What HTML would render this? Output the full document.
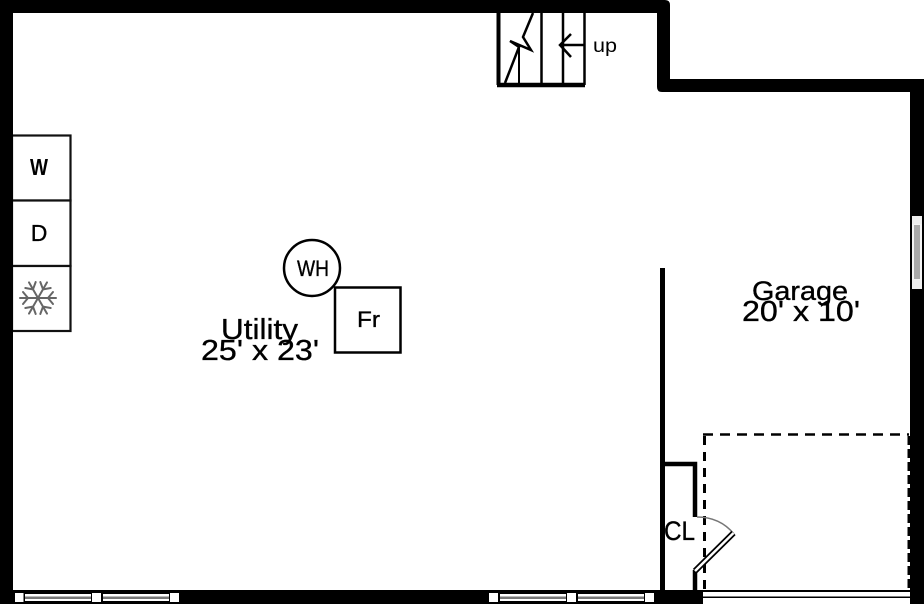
<!DOCTYPE html>
<html><head><meta charset="utf-8"><style>
html,body{margin:0;padding:0;background:#fff;width:924px;height:604px;overflow:hidden}
svg{display:block}
text{font-family:"Liberation Sans",sans-serif;fill:#000}
.t{stroke:#000;stroke-width:.35px}
</style></head><body>
<svg width="924" height="604" viewBox="0 0 924 604" xmlns="http://www.w3.org/2000/svg">
<rect width="924" height="604" fill="#fff"/>
<!-- walls -->
<path d="M0 0H665Q670 0 670 5V79H924V604H910V598H703V604H0ZM13 13V590H910V92H662Q657 92 657 87V13Z" fill="#000" fill-rule="evenodd"/>
<rect x="703" y="592" width="207" height="4.500" fill="#fff"/>
<!-- bottom windows -->
<g fill="#fff">
<rect x="15" y="593" width="8.500" height="9"/><rect x="92" y="593" width="9" height="9"/><rect x="170" y="593" width="9" height="9"/>
<rect x="25" y="594" width="66" height="7"/><rect x="103" y="594" width="66" height="7"/>
<rect x="489" y="593" width="9" height="9"/><rect x="567" y="593" width="9" height="9"/><rect x="645" y="593" width="9" height="9"/>
<rect x="500" y="594" width="66" height="7"/><rect x="578" y="594" width="66" height="7"/>
</g>
<g fill="#777">
<rect x="25" y="596.500" width="66" height="2.500"/><rect x="103" y="596.500" width="66" height="2.500"/>
<rect x="500" y="596.500" width="66" height="2.500"/><rect x="578" y="596.500" width="66" height="2.500"/>
</g>
<!-- right window -->
<rect x="912" y="216" width="10" height="8" fill="#eee"/>
<rect x="912" y="224" width="10" height="56" fill="#f4f4f4"/>
<rect x="914" y="225" width="6" height="54" fill="#aaa"/>
<rect x="912" y="280" width="10" height="9" fill="#eee"/>
<!-- stairs -->
<g fill="none" stroke="#000">
<path d="M498.500 13V85" stroke-width="4"/>
<path d="M584.500 13V85" stroke-width="2.500"/>
<path d="M497 85H585" stroke-width="4.500"/>
<path d="M519 47V84" stroke-width="2"/>
<path d="M541.500 13V84M563 13V84" stroke-width="2.500"/>
<path d="M533 13L523 37L531 50L510 41L519 47L505 83" stroke-width="2.500"/>
<path d="M560 45H585M571 34L560 45L571 57" stroke-width="2.500"/>
</g>
<text x="593" y="52" font-size="19" fill="#333" textLength="24" lengthAdjust="spacingAndGlyphs">up</text>
<!-- appliances -->
<g fill="#fff" stroke="#111" stroke-width="2.200">
<rect x="12" y="135.500" width="58.500" height="65"/>
<rect x="12" y="200.500" width="58.500" height="65.500"/>
<rect x="12" y="266" width="58.500" height="65"/>
</g>
<rect x="0" y="130" width="13" height="205" fill="#000"/>
<text x="39" y="175" font-size="23" text-anchor="middle" font-weight="bold" textLength="18" lengthAdjust="spacingAndGlyphs">W</text>
<text x="39" y="241" font-size="23" text-anchor="middle" class="t">D</text>
<g stroke="#666" stroke-width="2" fill="none" stroke-linecap="round" transform="translate(38 298)">
<g id="arm"><path d="M0 0V-18M0 -10L-6 -15M0 -10L6 -15" transform="rotate(30)"/></g>
<path d="M0 0V-18M0 -10L-6 -15M0 -10L6 -15" transform="rotate(90)"/>
<path d="M0 0V-18M0 -10L-6 -15M0 -10L6 -15" transform="rotate(150)"/>
<path d="M0 0V-18M0 -10L-6 -15M0 -10L6 -15" transform="rotate(210)"/>
<path d="M0 0V-18M0 -10L-6 -15M0 -10L6 -15" transform="rotate(270)"/>
<path d="M0 0V-18M0 -10L-6 -15M0 -10L6 -15" transform="rotate(330)"/>
</g>
<!-- WH and Fr -->
<circle cx="312" cy="268" r="28" fill="#fff" stroke="#000" stroke-width="2.500"/>
<text x="297" y="276" font-size="22" class="t" textLength="32" lengthAdjust="spacingAndGlyphs">WH</text>
<rect x="335" y="287.500" width="65.500" height="65" fill="#fff" stroke="#000" stroke-width="2.500"/>
<text x="357" y="327" font-size="22" class="t" textLength="23" lengthAdjust="spacingAndGlyphs">Fr</text>
<!-- labels -->
<text x="221" y="339" font-size="29" class="t" textLength="77" lengthAdjust="spacingAndGlyphs">Utility</text>
<text x="201" y="360" font-size="29" class="t" textLength="118" lengthAdjust="spacingAndGlyphs">25' x 23'</text>
<text x="752" y="300" font-size="27" class="t" textLength="96" lengthAdjust="spacingAndGlyphs">Garage</text>
<text x="742" y="321" font-size="29" class="t" textLength="118" lengthAdjust="spacingAndGlyphs">20' x 10'</text>
<!-- closet -->
<g fill="none" stroke="#000">
<path d="M662.500 268V590" stroke-width="5"/>
<path d="M665 464H695V517" stroke-width="4.500"/>
<path d="M695 570V590" stroke-width="4.500"/>
<path d="M704.500 436V590" stroke-width="3" stroke-dasharray="9 7"/>
<path d="M703 434.500H909" stroke-width="2.500" stroke-dasharray="10 7"/>
<path d="M909 436V590" stroke-width="3" stroke-dasharray="9 4"/>
</g>
<path d="M697 517Q720 517 734 534" fill="none" stroke="#777" stroke-width="1.500"/>
<path d="M695 571L733.500 533" stroke="#000" stroke-width="6" fill="none"/>
<path d="M695 571L733.500 533" stroke="#fff" stroke-width="2.500" fill="none"/>
<text x="664" y="540" font-size="27" class="t" textLength="31" lengthAdjust="spacingAndGlyphs">CL</text>
</svg>
</body></html>
